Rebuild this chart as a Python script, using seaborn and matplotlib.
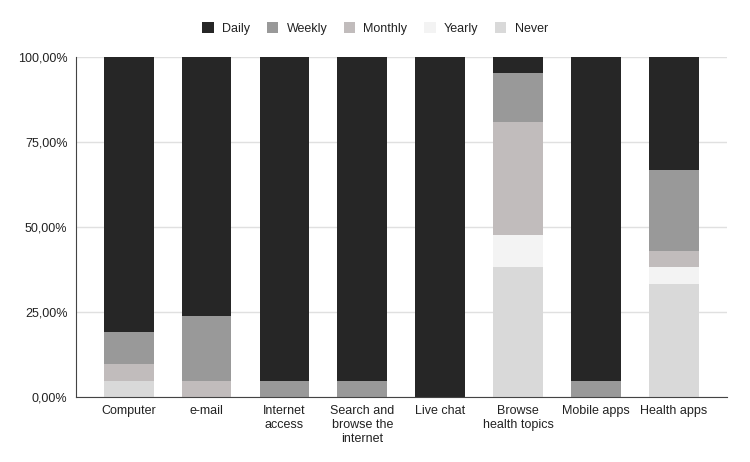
import numpy as np
import pandas as pd
import seaborn as sns
from matplotlib import pyplot as plt
from matplotlib.patches import Patch
from matplotlib.ticker import FuncFormatter

categories = ['Computer', 'e-mail', 'Internet\naccess', 'Search and\nbrowse the\ninternet',
              'Live chat', 'Browse\nhealth topics', 'Mobile apps', 'Health apps']
# percent of respondents per frequency
daily = [80.95, 76.19, 95.24, 95.24, 100.0, 4.76, 95.24, 33.33]
weekly = [9.52, 19.05, 4.76, 4.76, 0.0, 14.29, 4.76, 23.81]
monthly = [4.76, 4.76, 0.0, 0.0, 0.0, 33.33, 0.0, 4.76]
yearly = [0.0, 0.0, 0.0, 0.0, 0.0, 9.52, 0.0, 4.76]
never = [4.76, 0.0, 0.0, 0.0, 0.0, 38.10, 0.0, 33.33]

series = ['Daily', 'Weekly', 'Monthly', 'Yearly', 'Never']
colors = ['#262626', '#999999', '#c1bcbc', '#f3f3f3', '#d9d9d9']


def main():
    df = pd.DataFrame({'category': categories, 'Daily': daily, 'Weekly': weekly,
                       'Monthly': monthly, 'Yearly': yearly, 'Never': never})
    # stack from bottom: Never, Yearly, Monthly, Weekly, Daily
    bottom_up = series[::-1]
    cum = df[bottom_up].cumsum(axis=1)

    sns.set_style('white')
    plt.rcParams['font.family'] = ['Liberation Sans', 'DejaVu Sans']

    fig = plt.figure(figsize=(7.5, 4.62), dpi=100)
    ax = fig.add_axes([0.101, 0.141, 0.868, 0.736])

    # draw tallest cumulative first, then overlay lower ones
    for name, col in zip(series, colors):
        sns.barplot(x=df['category'], y=cum[name], color=col, width=0.64,
                    saturation=1, ax=ax, zorder=2, linewidth=0)

    ax.set_xlim(-0.68, 7.68)
    ax.set_ylim(0, 100)
    ax.set_yticks([0, 25, 50, 75, 100])
    ax.yaxis.set_major_formatter(FuncFormatter(lambda v, p: f'{v:.2f}%'.replace('.', ',')))
    ax.grid(axis='y', color='#e0e0e0', linewidth=1, zorder=0)
    ax.set_axisbelow(True)
    ax.set_xlabel('')
    ax.set_ylabel('')
    for s in ['top', 'right']:
        ax.spines[s].set_visible(False)
    ax.spines['left'].set_color('#444444')
    ax.spines['bottom'].set_color('#444444')
    ax.tick_params(axis='both', length=0, labelsize=9, colors='#222222', pad=6)

    handles = [Patch(facecolor=c, edgecolor='none', label=n) for n, c in zip(series, colors)]
    fig.legend(handles=handles, loc='center', bbox_to_anchor=(0.5, 0.938), ncol=5,
               frameon=False, fontsize=9, handlelength=0.95, handleheight=0.95,
               columnspacing=1.3, handletextpad=0.65, labelcolor='#222222')

    fig.savefig('out.png', dpi=100)


if __name__ == '__main__':
    main()
